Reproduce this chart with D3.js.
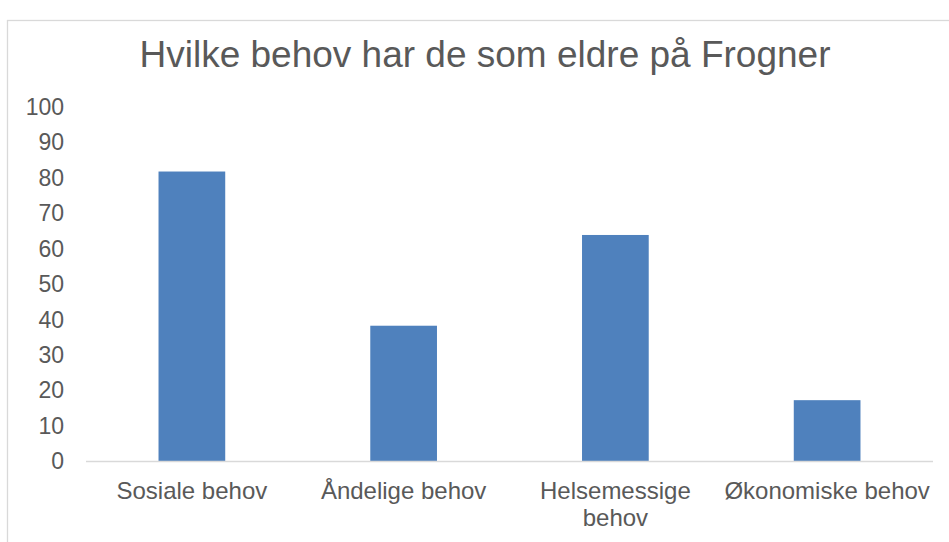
<!DOCTYPE html>
<html>
<head>
<meta charset="utf-8">
<script src="https://cdn.jsdelivr.net/npm/d3@7"></script>
<style>
  html, body { margin: 0; padding: 0; background: #fff; }
  svg { display: block; }
  text { font-family: "Liberation Sans", Arial, sans-serif; fill: #595959; }
</style>
</head>
<body>
<svg id="chart" width="949" height="542"></svg>
<script>
const title = "Hvilke behov har de som eldre på Frogner";
const categories = ["Sosiale behov", "Åndelige behov", "Helsemessige behov", "Økonomiske behov"];
const values = [81.8, 38.3, 63.9, 17.3];
const yTicks = [0, 10, 20, 30, 40, 50, 60, 70, 80, 90, 100];

const svg = d3.select("#chart");
const W = 949, H = 542;

// chart border
svg.append("rect")
  .attr("x", 7.5).attr("y", 20.5)
  .attr("width", 1100).attr("height", 700)
  .attr("fill", "#fff").attr("stroke", "#d9d9d9").attr("stroke-width", 1.3);

svg.append("text")
  .attr("x", 485).attr("y", 67)
  .attr("text-anchor", "middle")
  .attr("font-size", 37)
  .text(title);

const plotLeft = 86, plotRight = 933, plotTop = 107, plotBottom = 461.5;

const x = d3.scaleBand()
  .domain(categories)
  .range([plotLeft, plotRight])
  .paddingInner(0.685)
  .paddingOuter(0.3425);

const y = d3.scaleLinear().domain([0, 100]).range([plotBottom, plotTop]);

// bars
svg.append("g").selectAll("rect")
  .data(categories.map((c, i) => ({ c, v: values[i] })))
  .join("rect")
  .attr("x", d => x(d.c))
  .attr("width", x.bandwidth())
  .attr("y", d => y(d.v))
  .attr("height", d => y(0) - y(d.v))
  .attr("fill", "#4f81bd");

// x axis line
svg.append("line")
  .attr("x1", plotLeft).attr("x2", plotRight)
  .attr("y1", plotBottom).attr("y2", plotBottom)
  .attr("stroke", "#d9d9d9").attr("stroke-width", 1.3);

// y axis labels
const yAxis = d3.axisLeft(y).tickValues(yTicks).tickSize(0).tickPadding(0).tickFormat(d3.format("d"));
const yg = svg.append("g").attr("transform", `translate(64,0)`).call(yAxis);
yg.select(".domain").remove();
yg.selectAll("text")
  .attr("font-size", 23)
  .attr("font-family", "Liberation Sans, Arial, sans-serif")
  .attr("fill", "#595959");

// x axis labels with wrapping
const xAxis = d3.axisBottom(x).tickSize(0).tickPadding(0);
const xg = svg.append("g").attr("transform", `translate(0,${plotBottom})`).call(xAxis);
xg.select(".domain").remove();
xg.selectAll("text")
  .attr("font-size", 24)
  .attr("font-family", "Liberation Sans, Arial, sans-serif")
  .attr("fill", "#595959")
  .each(function(d) {
    const t = d3.select(this);
    const maxW = x.step();
    const words = d.split(" ");
    t.text(null).attr("y", 0).attr("dy", null);
    let lines = [], line = [];
    const tmp = t.append("tspan");
    words.forEach(w => {
      const test = line.concat([w]).join(" ");
      tmp.text(test);
      if (tmp.node().getComputedTextLength() > maxW - 4 && line.length) {
        lines.push(line.join(" "));
        line = [w];
      } else {
        line.push(w);
      }
    });
    lines.push(line.join(" "));
    tmp.remove();
    lines.forEach((l, i) => {
      t.append("tspan").attr("x", 0).attr("y", 37 + i * 27).text(l);
    });
  });
</script>
</body>
</html>
